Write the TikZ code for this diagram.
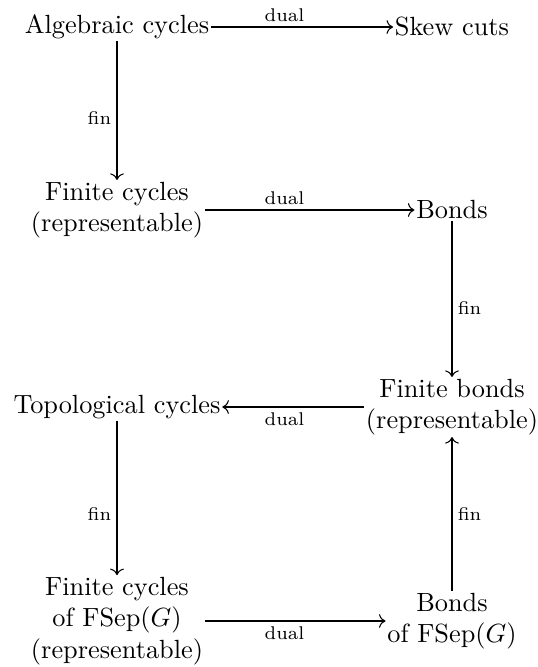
\documentclass[tikz,border=0pt]{standalone}
\usetikzlibrary{cd}
\begin{document}
\begin{tikzpicture}[x=0.38pt,y=-0.38pt,
  obj/.style={inner sep=0.5pt,align=center},
  arr/.style={-cm to,line width=0.4pt},
  lab/.style={font=\scriptsize,inner sep=2pt}]
\useasboundingbox (0,0) rectangle (538,667);
\node[obj] (A) at (117,27) {Algebraic cycles};
\node[obj] (S) at (452,27) {Skew cuts};
\node[obj] (F1) at (117,210) {Finite cycles\\(representable)};
\node[obj] (B) at (452,210) {Bonds};
\node[obj] (FB) at (452,407) {Finite bonds\\(representable)};
\node[obj] (T) at (117,407) {Topological cycles};
\node[obj] (F2) at (117,621) {Finite cycles\\of FSep($G$)\\(representable)};
\node[obj] (B2) at (452,621) {Bonds\\of FSep($G$)};
% arrows
\draw[arr] (A) -- (S);
\path (A.center) -- node[lab,above] (l1) {dual} (S.center);
\draw[arr] (A) -- (F1);
\path (A.center) -- node[lab,left] (l2) {fin} (F1.center);
\draw[arr] (F1) -- (B);
\path (F1.center) -- node[lab,above] (l3) {dual} (B.center);
\draw[arr] (B) -- (FB);
\path (B.center) -- node[lab,right] (l4) {fin} (FB.center);
\draw[arr] (FB) -- (T);
\path (FB.center) -- node[lab,below] (l5) {dual} (T.center);
\draw[arr] (T) -- (F2);
\path (T.center) -- node[lab,left] (l6) {fin} (F2.center);
\draw[arr] (F2) -- (B2);
\path (F2.center) -- node[lab,below] (l7) {dual} (B2.center);
\draw[arr] (B2) -- (FB);
\path (B2.center) -- node[lab,right] (l8) {fin} (FB.center);
\end{tikzpicture}
\end{document}
